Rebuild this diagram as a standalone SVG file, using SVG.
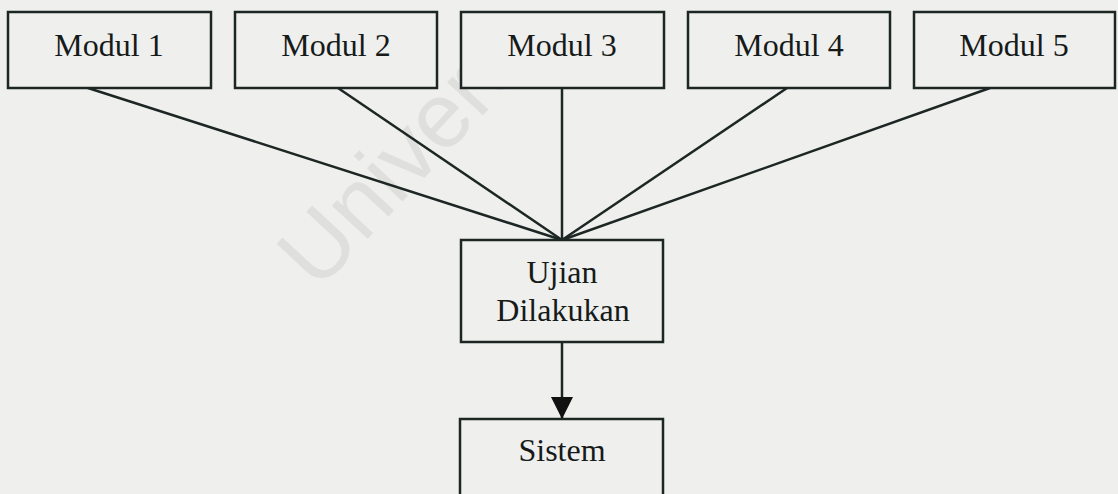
<svg xmlns="http://www.w3.org/2000/svg" width="1118" height="494" viewBox="0 0 1118 494">
<style>
.box{fill:#efefed;stroke:#1c2624;stroke-width:2.5}
.lbl{font-family:"Liberation Serif","Times New Roman",serif;font-size:32px;fill:#161b1a;text-anchor:middle}
.conn{stroke:#1c2624;stroke-width:2.5;fill:none}
.wm{font-family:"Liberation Sans",Arial,sans-serif;font-size:92px;fill:#dfdfdd}
</style>
<defs>
<marker id="arr" viewBox="0 0 22 22" refX="22" refY="11" markerWidth="22" markerHeight="22" markerUnits="userSpaceOnUse" orient="auto">
<path d="M0,0 L22,11 L0,22 Z" fill="#111"/>
</marker>
</defs>
<rect width="1118" height="494" fill="#efefed"/>
<text class="wm" x="318" y="292" transform="rotate(-47 318 292)">Univers</text>
<g id="connectors">
<line class="conn" x1="88" y1="88" x2="562" y2="240"/>
<line class="conn" x1="338" y1="88" x2="562" y2="240"/>
<line class="conn" x1="562" y1="88" x2="562" y2="240"/>
<line class="conn" x1="787" y1="88" x2="562" y2="240"/>
<line class="conn" x1="990" y1="88" x2="562" y2="240"/>
<line class="conn" x1="562" y1="342" x2="562" y2="419" marker-end="url(#arr)"/>
</g>
<g id="modul1"><rect class="box" x="8" y="12" width="203" height="76"/><text class="lbl" x="109" y="56">Modul 1</text></g>
<g id="modul2"><rect class="box" x="235" y="12" width="202" height="76"/><text class="lbl" x="336" y="56">Modul 2</text></g>
<g id="modul3"><rect class="box" x="461" y="12" width="203" height="76"/><text class="lbl" x="562" y="56">Modul 3</text></g>
<g id="modul4"><rect class="box" x="688" y="12" width="202" height="76"/><text class="lbl" x="789" y="56">Modul 4</text></g>
<g id="modul5"><rect class="box" x="914" y="12" width="201" height="76"/><text class="lbl" x="1014" y="56">Modul 5</text></g>
<g id="ujian"><rect class="box" x="461" y="240" width="202" height="102"/><text class="lbl" x="562" y="283">Ujian</text><text class="lbl" x="563" y="321">Dilakukan</text></g>
<g id="sistem"><rect class="box" x="460" y="419" width="203" height="85"/><text class="lbl" x="562" y="461">Sistem</text></g>
</svg>
